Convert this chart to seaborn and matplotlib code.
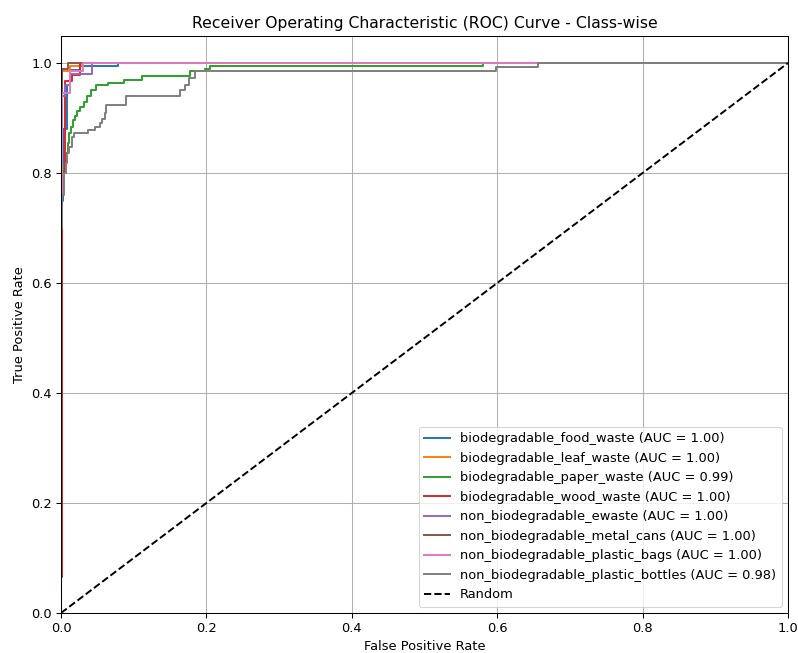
import matplotlib
matplotlib.use("Agg")
import matplotlib.pyplot as plt
import seaborn as sns

class_names = [
    "biodegradable_food_waste",
    "biodegradable_leaf_waste",
    "biodegradable_paper_waste",
    "biodegradable_wood_waste",
    "non_biodegradable_ewaste",
    "non_biodegradable_metal_cans",
    "non_biodegradable_plastic_bags",
    "non_biodegradable_plastic_bottles",
]
auc_values = [1.00, 1.00, 0.99, 1.00, 1.00, 1.00, 1.00, 0.98]

fpr_food = [0, 0, 0.003, 0.003, 0.008, 0.008, 0.012, 0.012, 0.026, 0.026, 0.078, 0.078, 1]
tpr_food = [0, 0.75, 0.75, 0.88, 0.88, 0.96, 0.96, 0.987, 0.987, 0.995, 0.995, 1, 1]

fpr_leaf = [0, 0, 0.002, 0.002, 0.012, 0.012, 0.028, 0.028, 1]
tpr_leaf = [0, 0.8, 0.8, 0.985, 0.985, 0.995, 0.995, 1, 1]

fpr_paper = [0, 0, 0.002, 0.002, 0.0045, 0.0045, 0.007, 0.007, 0.009, 0.009, 0.011, 0.011,
             0.014, 0.014, 0.016, 0.016, 0.019, 0.019, 0.022, 0.022, 0.026, 0.026, 0.031, 0.031,
             0.036, 0.036, 0.041, 0.041, 0.048, 0.048, 0.065, 0.065, 0.086, 0.086, 0.112, 0.112,
             0.177, 0.177, 0.198, 0.198, 0.205, 0.205, 0.58, 0.58, 1]
tpr_paper = [0, 0.74, 0.74, 0.79, 0.79, 0.815, 0.815, 0.836, 0.836, 0.855, 0.855, 0.872,
             0.872, 0.884, 0.884, 0.896, 0.896, 0.904, 0.904, 0.912, 0.912, 0.92, 0.92, 0.93,
             0.93, 0.94, 0.94, 0.951, 0.951, 0.96, 0.96, 0.964, 0.964, 0.969, 0.969, 0.977,
             0.977, 0.986, 0.986, 0.99, 0.99, 0.995, 0.995, 1, 1]

fpr_wood = [0, 0, 0.002, 0.002, 0.006, 0.006, 0.015, 0.015, 0.026, 0.026, 1]
tpr_wood = [0, 0.065, 0.065, 0.8, 0.8, 0.967, 0.967, 0.978, 0.978, 1, 1]

fpr_ewaste = [0, 0, 0.002, 0.002, 0.005, 0.005, 0.012, 0.012, 0.042, 0.042, 1]
tpr_ewaste = [0, 0.75, 0.75, 0.94, 0.94, 0.96, 0.96, 0.98, 0.98, 1, 1]

fpr_metal = [0, 0, 0.002, 0.002, 0.009, 0.009, 1]
tpr_metal = [0, 0.72, 0.72, 0.99, 0.99, 1, 1]

fpr_bags = [0, 0, 0.002, 0.002, 0.013, 0.013, 0.03, 0.03, 1]
tpr_bags = [0, 0.7, 0.7, 0.945, 0.945, 0.985, 0.985, 1, 1]

fpr_bottles = [0, 0, 0.002, 0.002, 0.0045, 0.0045, 0.007, 0.007, 0.0085, 0.0085, 0.0115, 0.0115,
               0.015, 0.015, 0.018, 0.018, 0.037, 0.037, 0.047, 0.047, 0.053, 0.053, 0.057, 0.057,
               0.06, 0.06, 0.062, 0.062, 0.089, 0.089, 0.164, 0.164, 0.17, 0.17, 0.176, 0.176,
               0.184, 0.184, 0.599, 0.599, 0.656, 0.656, 1]
tpr_bottles = [0, 0.7, 0.7, 0.76, 0.76, 0.8, 0.8, 0.818, 0.818, 0.836, 0.836, 0.848,
               0.848, 0.866, 0.866, 0.872, 0.872, 0.878, 0.878, 0.884, 0.884, 0.891, 0.891, 0.899,
               0.899, 0.91, 0.91, 0.924, 0.924, 0.94, 0.94, 0.951, 0.951, 0.96, 0.96, 0.972,
               0.972, 0.985, 0.985, 0.992, 0.992, 1, 1]

fpr_list = [fpr_food, fpr_leaf, fpr_paper, fpr_wood, fpr_ewaste, fpr_metal, fpr_bags, fpr_bottles]
tpr_list = [tpr_food, tpr_leaf, tpr_paper, tpr_wood, tpr_ewaste, tpr_metal, tpr_bags, tpr_bottles]

random_x = [0, 1]
random_y = [0, 1]

s = 1.17
plt.rcParams.update({
    "font.size": 10 * s,
    "axes.titlesize": 12 * s,
    "axes.labelsize": 10 * s,
    "xtick.labelsize": 10 * s,
    "ytick.labelsize": 10 * s,
    "legend.fontsize": 10 * s,
    "lines.linewidth": 1.5 * s,
    "axes.linewidth": 0.8 * s,
    "grid.linewidth": 0.8 * s,
    "xtick.major.width": 0.8 * s,
    "ytick.major.width": 0.8 * s,
    "xtick.major.size": 3.5 * s,
    "ytick.major.size": 3.5 * s,
    "xtick.major.pad": 3.5 * s,
    "ytick.major.pad": 3.5 * s,
    "axes.titlepad": 6 * s,
    "axes.labelpad": 4 * s,
})

dpi = 80
fig = plt.figure(figsize=(798 / dpi, 653 / dpi), dpi=dpi)
ax = fig.add_axes([61 / 798, 40 / 653, 727 / 798, 577.5 / 653])

colors = plt.rcParams["axes.prop_cycle"].by_key()["color"]
for i, (name, auc) in enumerate(zip(class_names, auc_values)):
    sns.lineplot(x=fpr_list[i], y=tpr_list[i], sort=False, estimator=None,
                 color=colors[i], linewidth=1.5 * s, label=f"{name} (AUC = {auc:.2f})", ax=ax)

sns.lineplot(x=random_x, y=random_y, sort=False, estimator=None, color="k",
             linestyle="--", linewidth=1.5 * s, label="Random", ax=ax)

ax.set_xlim(0, 1)
ax.set_ylim(0, 1.05)
ax.set_xlabel("False Positive Rate")
ax.set_ylabel("True Positive Rate")
ax.set_title("Receiver Operating Characteristic (ROC) Curve - Class-wise")
ax.grid(True)
ax.legend(loc="lower right")

fig.savefig("out.png", dpi=dpi)
